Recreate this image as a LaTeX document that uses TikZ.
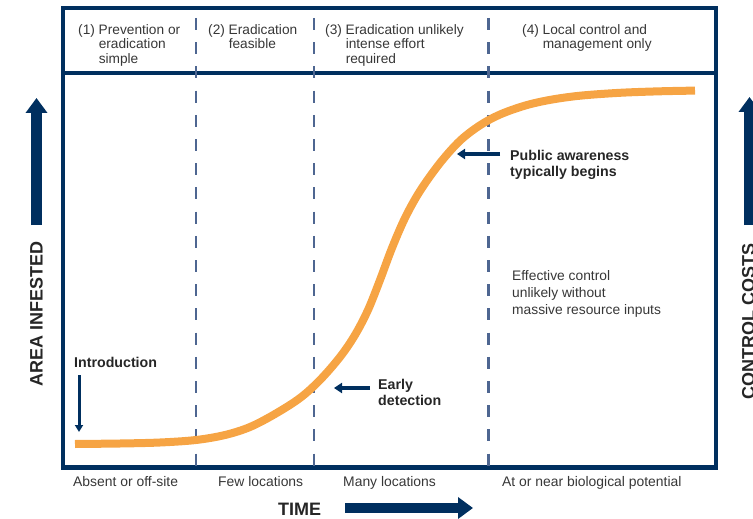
\documentclass[tikz,border=0pt]{standalone}
\usepackage{fontspec}
\setmainfont{Liberation Sans}
\usetikzlibrary{arrows.meta}
\definecolor{navy}{RGB}{0,47,95}
\definecolor{slate}{RGB}{78,102,145}
\definecolor{curveorange}{RGB}{246,164,68}
\definecolor{txtgray}{RGB}{55,55,55}
\definecolor{txtdark}{RGB}{38,38,38}
\begin{document}
\begin{tikzpicture}[x=1pt,y=-1pt,
  frame/.style={draw=navy,line width=4.5pt},
  divider/.style={draw=slate,line width=2.7pt,dash pattern=on 12pt off 12.2pt},
  growth/.style={draw=curveorange,line width=8pt},
  bigarrow/.style={draw=navy,line width=10.5pt,-{Triangle[length=15pt,width=21pt]}},
  pointer/.style={draw=navy,line width=4pt,-{Triangle[length=8pt,width=10pt]}},
  thinpointer/.style={draw=navy,line width=3pt,-{Triangle[length=7pt,width=8pt]}},
  hdr/.style={anchor=base west,inner sep=0pt,text=txtgray,font=\fontsize{13.7}{14.5}\selectfont},
  bottomlbl/.style={anchor=base west,inner sep=0pt,text=txtgray,font=\fontsize{13.9}{16}\selectfont},
  note/.style={anchor=base west,inner sep=0pt,text=txtdark,font=\fontsize{14.2}{16.8}\selectfont\bfseries},
  plainnote/.style={anchor=base west,inner sep=0pt,text=txtgray,font=\fontsize{13.8}{16.8}\selectfont},
  axislbl/.style={inner sep=0pt,text=txtdark,font=\fontsize{18}{20}\selectfont\bfseries}
]
\useasboundingbox (0,0) rectangle (753,519);

% frame
\draw[frame] (63,8) rectangle (716,467.5);
\draw[frame] (63,73) -- (716,73);

% dividers
\foreach \x in {196,314,488.5} \draw[divider] (\x,18) -- (\x,466);

% growth curve
\draw[growth] plot[smooth,tension=0.55] coordinates {(75,444) (120,443.5) (160,442.5) (196,440) (225,435) (250,427) (275,414) (300,398) (320,380) (340,357) (355,335) (368,310) (380,280) (392,248) (405,218) (420,191) (440,163) (460,140.7) (480,125.3) (500,114.5) (525,105.6) (550,99.9) (580,95.7) (620,92.8) (660,91.3) (695,90.6)};

% header texts
\node[hdr] (h1) at (78,34.3) {\begin{tabular}[t]{@{}l@{\ }l@{}}(1)&Prevention or\\&eradication\\&simple\end{tabular}};
\node[hdr] (h2) at (208,34.3) {\begin{tabular}[t]{@{}l@{\ }l@{}}(2)&Eradication\\&feasible\end{tabular}};
\node[hdr] (h3) at (325,34.3) {\begin{tabular}[t]{@{}l@{\ }l@{}}(3)&Eradication unlikely\\&intense effort\\&required\end{tabular}};
\node[hdr] (h4) at (522,34.3) {\begin{tabular}[t]{@{}l@{\ }l@{}}(4)&Local control and\\&management only\end{tabular}};

% bottom labels
\node[bottomlbl] (b1) at (73,486) {Absent or off-site};
\node[bottomlbl] (b2) at (218,486) {Few locations};
\node[bottomlbl] (b3) at (343,486) {Many locations};
\node[bottomlbl] (b4) at (502,486) {At or near biological potential};

% axis labels
\node[axislbl,anchor=base west] (time) at (278,515) {TIME};
\node[axislbl,rotate=90,anchor=base] (area) at (42.5,314) {AREA INFESTED};
\node[axislbl,rotate=90,anchor=base] (cost) at (754.6,321) {CONTROL COSTS};

% big arrows
\coordinate (ts) at (345,508);
\coordinate (te) at (473,508);
\draw[bigarrow] (ts) -- (te);
\coordinate (la0) at (36.5,225);
\coordinate (la1) at (36.5,98);
\draw[bigarrow] (la0) -- (la1);
\coordinate (ra0) at (749.5,225);
\coordinate (ra1) at (749.5,97);
\draw[bigarrow] (ra0) -- (ra1);

% annotations
\node[note] (intro) at (74,367) {Introduction};
\coordinate (i0) at (79,375);
\coordinate (i1) at (79,432);
\draw[thinpointer] (i0) -- (i1);

\node[note] (early) at (378,389) {\begin{tabular}[t]{@{}l@{}}Early\\detection\end{tabular}};
\coordinate (e0) at (370,388);
\coordinate (e1) at (334,388);
\draw[pointer] (e0) -- (e1);

\node[note] (public) at (510,160) {\begin{tabular}[t]{@{}l@{}}Public awareness\\typically begins\end{tabular}};
\coordinate (p0) at (500,154);
\coordinate (p1) at (457,154);
\draw[pointer] (p0) -- (p1);

\node[plainnote] (effective) at (512,280.7) {\begin{tabular}[t]{@{}l@{}}Effective control\\unlikely without\\massive resource inputs\end{tabular}};
\end{tikzpicture}
\end{document}
